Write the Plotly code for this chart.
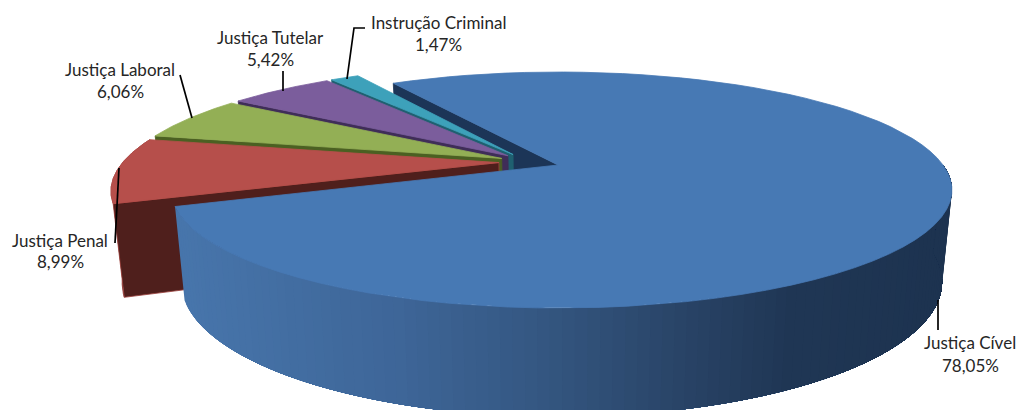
import numpy as np
import plotly.graph_objects as go

categories = ["Justiça Cível", "Justiça Penal", "Justiça Laboral", "Justiça Tutelar", "Instrução Criminal"]
values = [78.05, 8.99, 6.06, 5.42, 1.47]
value_labels = ["78,05%", "8,99%", "6,06%", "5,42%", "1,47%"]

# styling per slice: top face, cut face
top_colors = ["#4779B4", "#B64F4B", "#93AF55", "#7B5D9C", "#3DA1BA"]
cut_colors = ["#1C3557", "#4F1F1C", "#4B6022", "#3F2D58", "#1F6070"]

# projection of the disc on the page
START = -31.0
AX, AY, RX, RX_LEFT, RY, K = 558.0, 165.0, 385.0, 378.0, 112.7, 0.212
S, BY, RY2 = 0.975, 253.0, 129.0
E = 0.081

WHOLE = sum(values)
spans = [v / WHOLE * 360.0 for v in values]
edges = START + np.concatenate([[0.0], np.cumsum(spans)])


def direction(a):
    r = np.radians(a)
    return np.sin(r), np.cos(r)


def proj(u, v, bottom=False):
    w = 1 + K * v
    rx = np.where(np.asarray(u) < 0, RX_LEFT, RX)
    if bottom:
        return AX + S * rx * u / w, BY - RY2 * v / w
    return AX + rx * u / w, AY - RY * v / w


blue_mid = (edges[0] + edges[1]) / 2
bdu, bdv = direction(blue_mid)


def offset(i):
    du, dv = direction((edges[i] + edges[i + 1]) / 2)
    return E * (du - bdu), E * (dv - bdv)


def arc(i, a0=None, a1=None, n=80):
    a0 = edges[i] if a0 is None else a0
    a1 = edges[i + 1] if a1 is None else a1
    ox, oy = offset(i)
    t = np.linspace(a0, a1, n)
    du, dv = direction(t)
    return du + ox, dv + oy


fig = go.Figure()


def poly(xs, ys, color, line=None, lw=0.8):
    fig.add_trace(go.Scatter(x=[float(a) for a in xs], y=[float(a) for a in ys],
                             mode="lines" if lw else "none", fill="toself",
                             fillcolor=color,
                             line=dict(color=line or color, width=lw),
                             hoverinfo="skip", showlegend=False))


def cut_face(i, angle, line=None):
    ox, oy = offset(i)
    du, dv = direction(angle)
    x1, y1 = proj(ox, oy)
    x2, y2 = proj(du + ox, dv + oy)
    x3, y3 = proj(du + ox, dv + oy, True)
    x4, y4 = proj(ox, oy, True)
    poly([x1, x2, x3, x4, x1], [y1, y2, y3, y4, y1], cut_colors[i], line)


def top_face(i):
    ox, oy = offset(i)
    u, v = arc(i)
    x, y = proj(u, v)
    ax, ay = proj(ox, oy)
    poly(np.r_[ax, x, ax], np.r_[ay, y, ay], top_colors[i])


# back cut face of the large slice, seen through the gap
cut_face(0, edges[0])

# small slices, back to front
for i in [4, 3, 2]:
    cut_face(i, edges[i])
    top_face(i)

# red slice with visible rim sliver
u, v = arc(1)
xt, yt = proj(u, v)
xb, yb = proj(u, v, True)
poly(np.r_[xt, xb[::-1]], np.r_[yt, yb[::-1]], "#8A3A37")
cut_face(1, edges[1], "#9A3E3A")
top_face(1)

# wall of the large slice with a horizontal shading; each band reaches the far end so no seams show
GRAD_X = [175, 400, 550, 700, 790, 950]
GRAD_R = [72, 62, 52, 40, 32, 29]
GRAD_G = [118, 102, 86, 66, 55, 51]
GRAD_B = [172, 152, 128, 100, 85, 80]
WALL_END = 90
steps = np.arange(edges[1], WALL_END, -1.5)
for a0, a1 in zip(steps[:-1], steps[1:]):
    u, v = arc(0, a0, WALL_END, 120)
    xt, yt = proj(u, v)
    xb, yb = proj(u, v, True)
    m_u, m_v = arc(0, a0, a1, 3)
    mx = float(proj(m_u, m_v)[0][1])
    c = "rgb(%d,%d,%d)" % (np.interp(mx, GRAD_X, GRAD_R), np.interp(mx, GRAD_X, GRAD_G), np.interp(mx, GRAD_X, GRAD_B))
    poly(np.r_[xt, xb[::-1]], np.r_[yt, yb[::-1]], c, lw=0)
top_face(0)

# leader lines
leaders = [
    ([938, 938], [300, 330]),
    ([119, 115], [168, 243]),
    ([192, 180], [118, 75]),
    ([283, 283], [91, 71]),
    ([347, 354, 365], [79, 28, 28]),
]
for lx, ly in leaders:
    fig.add_trace(go.Scatter(x=lx, y=ly, mode="lines", line=dict(color="#000000", width=1.7),
                             hoverinfo="skip", showlegend=False))

# labels
label_pos = [(970, 342, 365), (60, 240, 261), (120, 69, 91), (270, 37, 59), (438, 22, 44)]
FONT = dict(family="Lato, Carlito, sans-serif", size=17, color="#262626")
ann = []
for name, val, (x, y1, y2) in zip(categories, value_labels, label_pos):
    ann.append(dict(x=x, y=y1, text=name, showarrow=False, font=FONT, xanchor="center", yanchor="middle"))
    ann.append(dict(x=x, y=y2, text=val, showarrow=False, font=FONT, xanchor="center", yanchor="middle"))

fig.update_layout(
    width=1019, height=410, margin=dict(l=0, r=0, t=0, b=0),
    paper_bgcolor="white", plot_bgcolor="white", showlegend=False,
    xaxis=dict(range=[0, 1019], visible=False, fixedrange=True),
    yaxis=dict(range=[410, 0], visible=False, fixedrange=True),
    annotations=ann,
)
fig.write_html("out.html", config={"displayModeBar": False},
               post_script="document.body.style.margin='0';document.body.style.overflow='hidden';")
